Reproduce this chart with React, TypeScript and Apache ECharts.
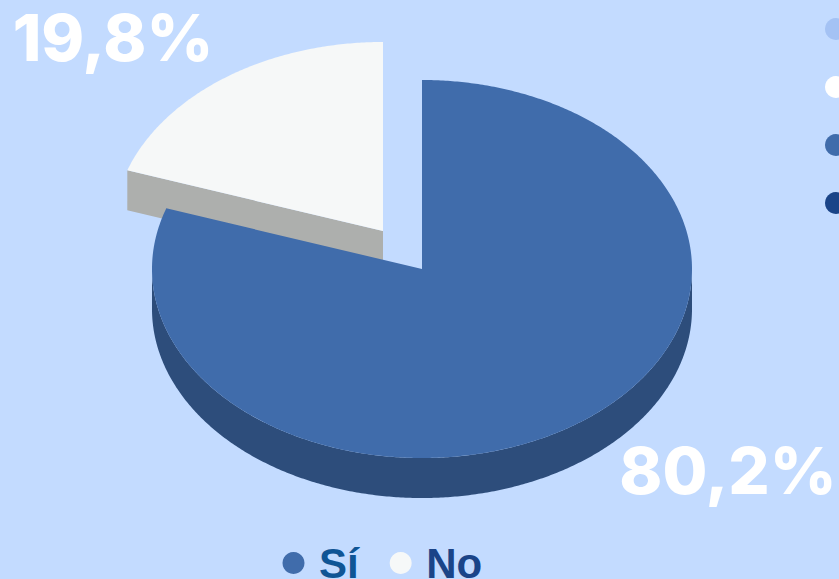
import React, { useEffect, useRef } from "react";
import * as echarts from "echarts";

const categories = ["Sí", "No"];
const values = [80.2, 19.8];
const topColors = ["#406CAB", "#F6F8F8"];
const wallColors = ["#2D4D7B", "#ADAFAD"];
const legendTextColors = ["#0F5595", "#1A4488"];
const decorDots = ["#A4C2F4", "#FFFFFF", "#406CAB", "#1A4488"];

const total = values.reduce((a, b) => a + b, 0);
const CX = 422, CY = 269, RX = 270, RY = 189, DEPTH = 40;
const explode = [[0, 0], [-39, -38]];
const labelPos = [[728, 470], [113, 37]];

function pt(cx: number, cy: number, deg: number): number[] {
  const r = (deg * Math.PI) / 180;
  return [cx + RX * Math.sin(r), cy - RY * Math.cos(r)];
}
function arc(cx: number, cy: number, a: number, b: number): number[][] {
  const n = Math.max(2, Math.ceil(Math.abs(b - a) * 2));
  const out: number[][] = [];
  for (let i = 0; i <= n; i++) out.push(pt(cx, cy, a + ((b - a) * i) / n));
  return out;
}

function sliceRenderer(index: number) {
  return (_params: any, api: any) => {
    const value = api.value(0) as number;
    const start = api.value(1) as number;
    const t0 = (start / total) * 360;
    const t1 = ((start + value) / total) * 360;
    const cx = CX + explode[index][0];
    const cy = CY + explode[index][1];
    const children: any[] = [];
    const wall = wallColors[index];
    const top = topColors[index];

    const wa = Math.max(t0, 90), wb = Math.min(t1, 270);
    if (wb > wa) {
      const upper = arc(cx, cy, wa, wb);
      const lower = arc(cx, cy + DEPTH, wb, wa);
      children.push({ type: "polygon", shape: { points: [...upper, ...lower] }, style: { fill: wall } });
    }
    const rad = (t: number) => Math.cos(((t) * Math.PI) / 180);
    if (rad(t0 - 90) < -1e-6) {
      const p = pt(cx, cy, t0);
      children.push({
        type: "polygon",
        shape: { points: [p, [cx, cy], [cx, cy + DEPTH], [p[0], p[1] + DEPTH]] },
        style: { fill: wall },
      });
    }
    children.push({
      type: "polygon",
      shape: { points: [[cx, cy], ...arc(cx, cy, t0, t1)] },
      style: { fill: top },
    });
    children.push({
      type: "text",
      style: {
        x: labelPos[index][0],
        y: labelPos[index][1],
        text: value.toFixed(1).replace(".", ",") + "%",
        fill: "#FFFFFF",
        font: "800 65px Inter",
        align: "center",
        verticalAlign: "middle",
      },
    });
    return { type: "group", children };
  };
}

export default function App() {
  const ref = useRef<HTMLDivElement>(null);
  useEffect(() => {
    document.body.style.margin = "0";
    const chart = echarts.init(ref.current!, undefined, { renderer: "svg" });
    let acc = 0;
    const starts = values.map((v) => { const s = acc; acc += v; return s; });
    const order = [1, 0];
    chart.setOption({
      animation: false,
      backgroundColor: "#C3DBFF",
      legend: {
        left: 277.5,
        top: 537,
        icon: "circle",
        itemWidth: 22,
        itemHeight: 22,
        itemGap: 31,
        selectedMode: false,
        textStyle: { fontFamily: "Liberation Sans", fontWeight: "bold", fontSize: 42, lineHeight: 30, padding: [2, 0, 0, 9.5] },
        data: categories.map((name, i) => ({ name, textStyle: { color: legendTextColors[i] } })),
      },
      graphic: decorDots.map((fill, i) => ({
        type: "circle",
        shape: { cx: 836, cy: 29 + i * 58, r: 11 },
        style: { fill },
      })),
      series: order.map((i) => ({
        type: "custom",
        name: categories[i],
        coordinateSystem: "none",
        itemStyle: { color: topColors[i] },
        renderItem: sliceRenderer(i),
        data: [[values[i], starts[i]]],
      })),
    });
    return () => chart.dispose();
  }, []);
  return <div ref={ref} style={{ width: 839, height: 579 }} />;
}
